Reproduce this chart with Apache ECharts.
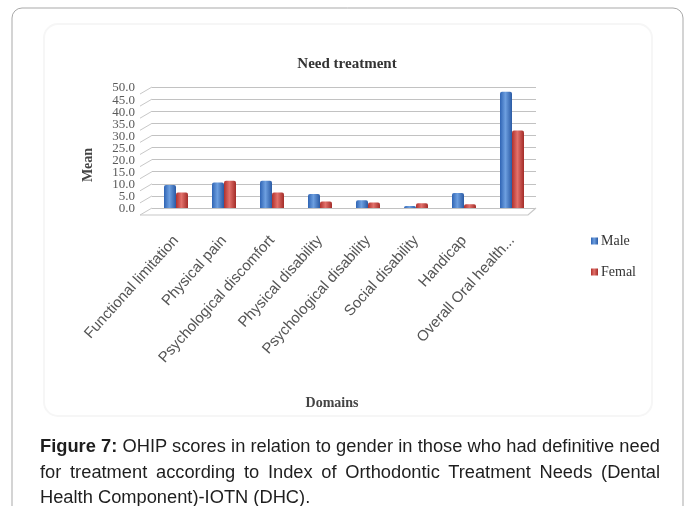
<!DOCTYPE html>
<html>
<head>
<meta charset="utf-8">
<script src="https://cdn.jsdelivr.net/npm/echarts@6/dist/echarts.min.js"></script>
<style>
  html, body { margin: 0; padding: 0; background: #fff; }
  #wrap { position: relative; width: 694px; height: 506px; overflow: hidden; }
  #chart { position: absolute; left: 0; top: 0; width: 694px; height: 506px; }
  #caption {
    position: absolute; left: 40px; top: 433px; width: 620px;
    font-family: "Liberation Sans", Arial, sans-serif; font-size: 18.3px;
    line-height: 25.5px; color: #1e1e1e;
  }
  #caption .j { text-align: justify; text-align-last: justify; white-space: nowrap; }
  #caption b { font-weight: bold; }
</style>
</head>
<body>
<div id="wrap">
  <div id="chart"></div>
  <div id="caption">
    <div class="j"><b>Figure 7:</b> OHIP scores in relation to gender in those who had definitive need</div>
    <div class="j">for treatment according to Index of Orthodontic Treatment Needs (Dental</div>
    <div>Health Component)-IOTN (DHC).</div>
  </div>
</div>
<script>
// OHIP domain means by gender, definitive treatment need group
const categories = [
  'Functional limitation',
  'Physical pain',
  'Psychological discomfort',
  'Physical disability',
  'Psychological disability',
  'Social disability',
  'Handicap',
  'Overall Oral health...'
];
const seriesNames = ['Male', 'Femal'];
const maleMeans = [9.5, 10.5, 11.3, 5.8, 3.2, 0.8, 6.2, 48.0];
const femaleMeans = [6.4, 11.3, 6.4, 2.7, 2.3, 2.0, 1.6, 32.0];
const yTicks = [0, 5, 10, 15, 20, 25, 30, 35, 40, 45, 50];
const yTickLabels = ['0.0', '5.0', '10.0', '15.0', '20.0', '25.0', '30.0', '35.0', '40.0', '45.0', '50.0'];

const chart = echarts.init(document.getElementById('chart'));

function barGradient(dark, light, edge) {
  return new echarts.graphic.LinearGradient(0, 0, 1, 0, [
    { offset: 0, color: dark },
    { offset: 0.45, color: light },
    { offset: 1, color: edge }
  ]);
}

const serif = '"Liberation Serif", "Times New Roman", serif';

chart.setOption({
  animation: false,
  backgroundColor: '#fff',
  color: ['#3a70c0', '#c0403b'],
  graphic: [
    {
      type: 'rect', z: -10,
      shape: { x: 12, y: 8, width: 671, height: 540, r: 10 },
      style: { fill: '#fff', stroke: '#a9a9a9', lineWidth: 1 }
    },
    {
      type: 'rect', z: -9,
      shape: { x: 44, y: 24, width: 608, height: 392, r: 14 },
      style: { fill: 'none', stroke: '#f6f6f6', lineWidth: 2 }
    },
    {
      // value axis title
      type: 'text',
      x: 88, y: 165,
      rotation: Math.PI / 2,
      style: {
        text: 'Mean',
        align: 'center', verticalAlign: 'middle',
        font: 'bold 14px ' + serif,
        fill: '#444'
      }
    },
    {
      // category axis title
      type: 'text',
      x: 332, y: 403,
      style: {
        text: 'Domains',
        align: 'center', verticalAlign: 'middle',
        font: 'bold 14px ' + serif,
        fill: '#444'
      }
    }
  ],
  title: {
    text: 'Need treatment',
    left: 'center',
    top: 52,
    textStyle: { fontFamily: serif, fontSize: 15, fontWeight: 'bold', color: '#333' }
  },
  legend: {
    data: seriesNames,
    orient: 'vertical',
    left: 586,
    top: 229,
    itemWidth: 7,
    itemHeight: 7,
    itemGap: 17,
    icon: 'rect',
    textStyle: { fontFamily: serif, fontSize: 14, color: '#333', padding: [0, 0, 0, -2] }
  },
  grid: { left: 152, right: 158, top: 87, bottom: 298 },
  xAxis: {
    type: 'category',
    data: categories,
    axisLine: { show: false },
    axisTick: { show: false },
    axisLabel: {
      interval: 0,
      rotate: 48,
      margin: 30,
      fontFamily: '"Liberation Sans", Arial, sans-serif',
      fontSize: 15,
      color: '#555'
    }
  },
  yAxis: {
    type: 'value',
    min: 0,
    max: 50,
    interval: 5,
    axisLine: { show: false },
    axisTick: { show: false },
    axisLabel: { show: false },
    splitLine: { lineStyle: { color: '#c2c2c2', width: 1 } }
  },
  series: [
    {
      // side wall stroke and value label at every gridline
      type: 'custom',
      silent: true,
      z: 1,
      data: yTicks.map((v, i) => [0, v, i]),
      renderItem: (params, api) => {
        const cs = params.coordSys;
        const y = api.coord([0, api.value(1)])[1];
        return {
          type: 'group',
          children: [
            {
              type: 'line',
              shape: { x1: cs.x - 12, y1: y + 7, x2: cs.x, y2: y },
              style: { stroke: '#c8c8c8', lineWidth: 1 }
            },
            {
              type: 'text',
              x: cs.x - 17, y: y + 1,
              style: {
                text: yTickLabels[api.value(2)],
                align: 'right', verticalAlign: 'middle',
                font: '13px ' + serif,
                fill: '#5a5a5a'
              }
            }
          ]
        };
      }
    },
    {
      // floor front edge
      type: 'custom',
      silent: true,
      z: 1,
      data: [[0, 0]],
      renderItem: (params, api) => {
        const cs = params.coordSys;
        const y = api.coord([0, 0])[1];
        return {
          type: 'polyline',
          shape: { points: [[cs.x - 12, y + 7], [cs.x + cs.width - 8, y + 7], [cs.x + cs.width, y]] },
          style: { stroke: '#c8c8c8', lineWidth: 1.2, fill: 'none' }
        };
      }
    },
    {
      name: seriesNames[0],
      type: 'bar',
      data: maleMeans,
      barWidth: 12,
      barGap: '0%',
      z: 3,
      itemStyle: {
        color: barGradient('#2f64b4', '#6d9fe0', '#2a5aa4'),
        borderRadius: [2, 2, 0, 0]
      }
    },
    {
      name: seriesNames[1],
      type: 'bar',
      data: femaleMeans,
      barWidth: 12,
      barGap: '0%',
      z: 3,
      itemStyle: {
        color: barGradient('#b0312d', '#e2716b', '#a32c28'),
        borderRadius: [2, 2, 0, 0]
      }
    }
  ]
});
</script>
</body>
</html>
